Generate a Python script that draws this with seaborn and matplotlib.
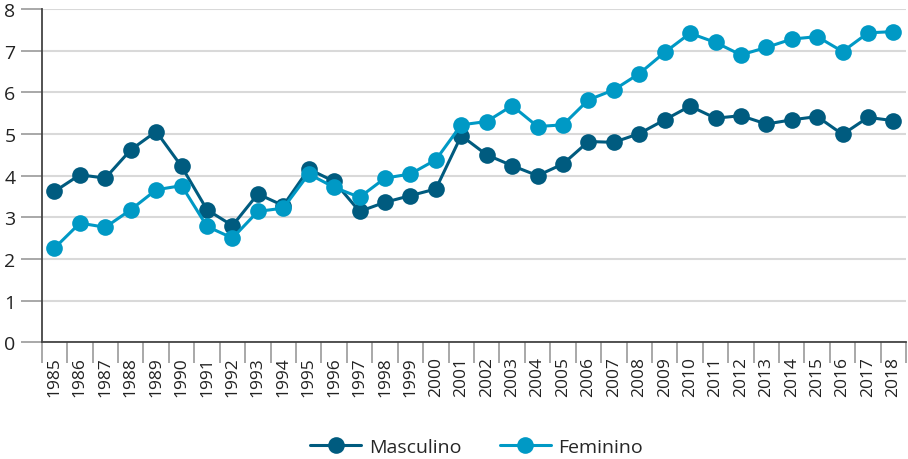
import numpy as np
import pandas as pd
import matplotlib
matplotlib.use("Agg")
import matplotlib.pyplot as plt
import seaborn as sns

years = list(range(1985, 2019))
masculino = [3.62, 4.02, 3.94, 4.62, 5.06, 4.22, 3.18, 2.80, 3.56, 3.28,
             4.16, 3.86, 3.14, 3.36, 3.52, 3.68, 4.96, 4.50, 4.24, 4.00,
             4.28, 4.82, 4.80, 5.01, 5.34, 5.67, 5.38, 5.44, 5.24, 5.34,
             5.42, 4.99, 5.40, 5.32]
feminino = [2.26, 2.86, 2.76, 3.18, 3.66, 3.76, 2.78, 2.50, 3.14, 3.22,
            4.04, 3.72, 3.48, 3.94, 4.04, 4.38, 5.22, 5.30, 5.68, 5.18,
            5.22, 5.82, 6.06, 6.45, 6.96, 7.42, 7.20, 6.90, 7.08, 7.28,
            7.34, 6.98, 7.43, 7.46]

df = pd.DataFrame({
    "pos": list(range(len(years))) * 2,
    "valor": masculino + feminino,
    "sexo": ["Masculino"] * len(years) + ["Feminino"] * len(years),
})

sns.set_style("white")
plt.rcParams["font.family"] = ["Open Sans", "DejaVu Sans"]

fig = plt.figure(figsize=(9.08, 4.6), dpi=100)
ax = fig.add_axes([0.046, 0.254, 0.952, 0.724])

cores = {"Masculino": "#005b7f", "Feminino": "#0099c5"}
sns.lineplot(data=df, x="pos", y="valor", hue="sexo", palette=cores,
             marker="o", markersize=12, markeredgewidth=0, linewidth=2.2,
             ax=ax, legend=False)

ax.set_xlim(-0.5, len(years) - 0.5)
ax.set_ylim(0, 8)
ax.set_yticks(range(0, 9))
ax.yaxis.grid(True, color="#d9d9d9", linewidth=1.5)
ax.set_axisbelow(True)

ax.set_xticks(range(len(years)))
ax.set_xticklabels([str(y) for y in years], rotation=90, fontsize=12.5, color="#222222")
ax.set_xticks(np.arange(-0.5, len(years), 1), minor=True)
ax.tick_params(axis="x", which="major", length=0, pad=10)
ax.tick_params(axis="x", which="minor", bottom=True, length=15, color="#999999", width=1.2)
ax.tick_params(axis="y", left=True, length=15, color="#999999", width=1.2, labelsize=14,
               labelcolor="#222222", pad=4)

for s in ["top", "right"]:
    ax.spines[s].set_visible(False)
ax.spines["left"].set_color("#444444")
ax.spines["bottom"].set_color("#444444")
ax.spines["left"].set_linewidth(1.3)
ax.spines["bottom"].set_linewidth(1.3)
ax.set_xlabel("")
ax.set_ylabel("")

handles = [plt.Line2D([], [], color=cores[k], marker="o", markersize=12,
                      markeredgewidth=0, linewidth=2.2) for k in cores]
fig.legend(handles, list(cores), loc="center", bbox_to_anchor=(0.525, 0.026),
           ncol=2, frameon=False, fontsize=14, handlelength=2.6,
           columnspacing=2.0, handletextpad=0.4)

fig.savefig("out.png", dpi=100)
